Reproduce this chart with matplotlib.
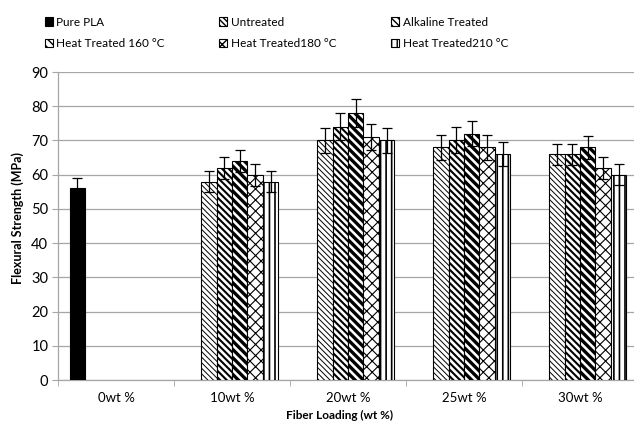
import matplotlib
matplotlib.use('Agg')
import matplotlib.pyplot as plt
import numpy as np

plt.rcParams['font.family'] = ['Lato', 'DejaVu Sans']

categories = ['0wt %', '10wt %', '20wt %', '25wt %', '30wt %']
series = ['Pure PLA', 'Untreated', 'Alkaline Treated',
          'Heat Treated 160 °C', 'Heat Treated180 °C', 'Heat Treated210 °C']
nan = np.nan

# flexural strength (MPa) per series, one value per category
pure_pla = [56, nan, nan, nan, nan]
untreated = [nan, 58, 70, 68, 66]
alkaline = [nan, 62, 74, 70, 66]
heat160 = [nan, 64, 78, 72, 68]
heat180 = [nan, 60, 71, 68, 62]
heat210 = [nan, 58, 70, 66, 60]

# standard deviations
pure_pla_err = [3.0, nan, nan, nan, nan]
untreated_err = [nan, 3.2, 3.7, 3.6, 3.1]
alkaline_err = [nan, 3.3, 3.9, 3.8, 3.1]
heat160_err = [nan, 3.3, 4.0, 3.7, 3.3]
heat180_err = [nan, 3.2, 3.7, 3.6, 3.2]
heat210_err = [nan, 3.1, 3.6, 3.4, 3.1]

values = [pure_pla, untreated, alkaline, heat160, heat180, heat210]
errors = [pure_pla_err, untreated_err, alkaline_err, heat160_err, heat180_err, heat210_err]

# fill colour, hatch, hatch line width
styles = [('black', '', 1.0),
          ('white', '\\' * 6, 0.7),
          ('white', '\\' * 5, 1.5),
          ('white', '\\' * 4, 2.4),
          ('white', 'xxx', 0.8),
          ('white', '|||', 1.2)]

fig = plt.figure(figsize=(6.34, 4.29), dpi=100)
ax = fig.add_axes([58/634, 1 - 380/429, 580/634, 308/429])

x = np.arange(len(categories))
w = 0.8 / len(series)
handles = []
for i, (vals, errs, (fc, hatch, hlw)) in enumerate(zip(values, errors, styles)):
    pos = x + (i - 2.5) * w
    with plt.rc_context({'hatch.linewidth': hlw}):
        bars = ax.bar(pos, vals, w, color=fc, edgecolor='black', linewidth=0.8,
                      hatch=hatch, label=series[i], zorder=3)
        for b in bars:
            if hasattr(b, 'set_hatch_linewidth'):
                b.set_hatch_linewidth(hlw)
    ax.errorbar(pos, vals, yerr=errs, fmt='none', ecolor='black',
                elinewidth=0.9, capsize=3.5, capthick=0.9, zorder=4)
    handles.append(bars)

ax.set_xlim(-0.5, len(categories) - 0.5)
ax.set_ylim(0, 90)
ax.set_yticks(np.arange(0, 91, 10))
ax.yaxis.grid(True, color='#a6a6a6', linewidth=0.9, zorder=0)
ax.set_axisbelow(True)

ax.set_xticks(x)
ax.set_xticklabels(categories, fontsize=9.5)
ax.set_xticks(np.arange(-0.5, len(categories)), minor=True)
ax.tick_params(axis='x', which='major', length=0, pad=9)
ax.tick_params(axis='x', which='minor', length=4, color='#a6a6a6', direction='out')
ax.tick_params(axis='y', length=4, color='#a6a6a6', labelsize=10.5, pad=3)

for s in ['top', 'right']:
    ax.spines[s].set_visible(False)
for s in ['left', 'bottom']:
    ax.spines[s].set_color('#a6a6a6')
    ax.spines[s].set_linewidth(0.9)

fig.text(339/634, 1 - 415/429, 'Fiber Loading (wt %)', ha='center', va='center',
         fontsize=8.5, fontweight='bold')
fig.text(18/634, 1 - 218/429, 'Flexural Strength (MPa)', ha='center', va='center',
         rotation=90, fontsize=9, fontweight='bold')

order = [0, 3, 1, 4, 2, 5]
fig.legend([handles[k] for k in order], [series[k] for k in order],
           ncol=3, loc='upper left', bbox_to_anchor=(34/634, 1 - 6/429),
           frameon=False, fontsize=8.5, handlelength=0.7, handleheight=0.7,
           handletextpad=0.3, columnspacing=4.6, labelspacing=0.9)

fig.savefig('out.png', dpi=100)
